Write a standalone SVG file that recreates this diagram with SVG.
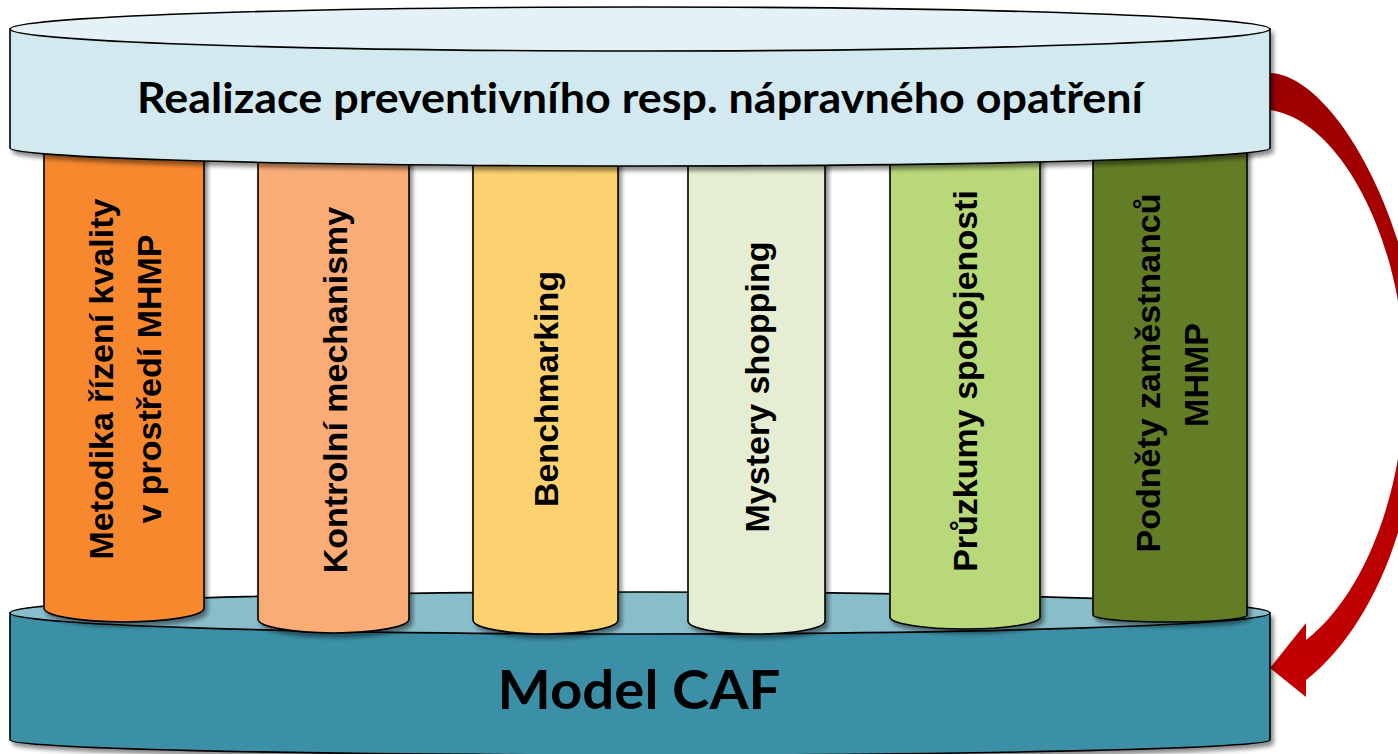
<svg xmlns="http://www.w3.org/2000/svg" width="1398" height="754" viewBox="0 0 1398 754">
<defs>
<style>
.edge{stroke:#000;stroke-width:1.6}
.ctext{font-family:"Liberation Sans",Arial,sans-serif;font-weight:bold;font-size:34px;fill:#000;text-anchor:middle}
.big{font-family:Lato,"Liberation Sans",sans-serif;font-weight:bold;fill:#000;text-anchor:middle;font-variant-ligatures:none;font-feature-settings:"liga" 0,"dlig" 0}
</style>
<filter id="sh" x="-5%" y="-5%" width="110%" height="120%">
<feDropShadow dx="3" dy="4" stdDeviation="2" flood-color="#000" flood-opacity="0.45"/>
</filter>
<linearGradient id="arrowGrad" x1="0" y1="0" x2="0" y2="1">
<stop offset="0" stop-color="#9C0000"/>
<stop offset="1" stop-color="#C40000"/>
</linearGradient>
</defs>
<rect width="1398" height="754" fill="#fff"/>

<g id="connectors">
<path d="M1262,73 L1270,73 C1335,75 1420,230 1420,380 C1420,520 1370,630 1306,680 L1306,697 L1270,668 L1306,623 L1306,640 C1370,590 1405,480 1405,380 C1405,240 1340,120 1270,110 L1262,110 Z" fill="url(#arrowGrad)"/>
</g>

<g id="base-model-caf">
<path class="edge" d="M10,613 L10,740 A630,15 0 0 0 1270,740 L1270,613 Z" fill="#3A90A7" filter="url(#sh)"/>
<ellipse class="edge" cx="640" cy="613" rx="630" ry="21" fill="#88BDCA"/>
<text class="big" x="639" y="709" font-size="53" textLength="283" lengthAdjust="spacingAndGlyphs">Model CAF</text>
</g>

<g id="col-metodika">
<path class="edge" d="M44,140 L44,608 A80,14 0 0 0 204,608 L204,140 Z" fill="#F7882F" filter="url(#sh)"/>
<text class="ctext" transform="translate(113,379) rotate(-90)">Metodika řízení kvality</text>
<text class="ctext" transform="translate(161,379) rotate(-90)">v prostředí MHMP</text>
</g>
<g id="col-kontrolni">
<path class="edge" d="M258,140 L258,619 A75.5,14 0 0 0 409,619 L409,140 Z" fill="#F9AC76" filter="url(#sh)"/>
<text class="ctext" transform="translate(347,390) rotate(-90)">Kontrolní mechanismy</text>
</g>
<g id="col-benchmarking">
<path class="edge" d="M473,140 L473,620 A72.5,14 0 0 0 618,620 L618,140 Z" fill="#FCD270" filter="url(#sh)"/>
<text class="ctext" transform="translate(558,389) rotate(-90)">Benchmarking</text>
</g>
<g id="col-mystery">
<path class="edge" d="M688,140 L688,621 A68.5,13 0 0 0 825,621 L825,140 Z" fill="#E5EED2" filter="url(#sh)"/>
<text class="ctext" transform="translate(769,387) rotate(-90)">Mystery shopping</text>
</g>
<g id="col-pruzkumy">
<path class="edge" d="M890,140 L890,617 A75,12 0 0 0 1040,617 L1040,140 Z" fill="#B8D87A" filter="url(#sh)"/>
<text class="ctext" transform="translate(977,381) rotate(-90)">Průzkumy spokojenosti</text>
</g>
<g id="col-podnety">
<path class="edge" d="M1093,140 L1093,615 A77,7 0 0 0 1247,615 L1247,140 Z" fill="#637D28" filter="url(#sh)"/>
<text class="ctext" transform="translate(1160,373) rotate(-90)">Podněty zaměstnanců</text>
<text class="ctext" transform="translate(1208,375) rotate(-90)">MHMP</text>
</g>

<g id="top-realizace">
<path class="edge" d="M10,29 L10,148 A630,18 0 0 0 1270,148 L1270,29 Z" fill="#D3E9F0" filter="url(#sh)"/>
<ellipse class="edge" cx="640" cy="29" rx="630" ry="22" fill="#E4F2F7"/>
<text class="big" x="640" y="113" font-size="42" textLength="1006" lengthAdjust="spacingAndGlyphs">Realizace preventivního resp. nápravného opatření</text>
</g>
</svg>
